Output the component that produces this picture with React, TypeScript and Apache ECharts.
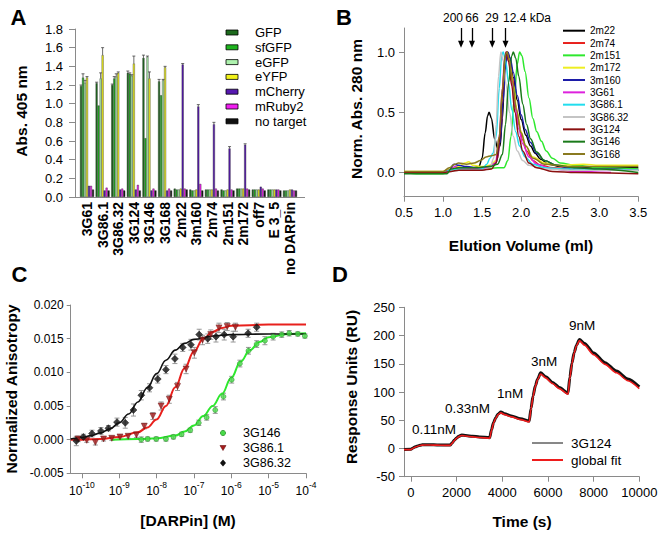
import React, { useEffect, useRef } from 'react';
import * as echarts from 'echarts';

const FONT = "'Liberation Sans', Arial, Helvetica, sans-serif";

// ---------------- Panel A ----------------
const clonesA = ['3G61', '3G86.1', '3G86.32', '3G124', '3G146', '3G168', '2m22', '3m160', '2m74', '2m151', '2m172', 'off7', 'E 3_5', 'no DARPin'];
const targetsA = ['GFP', 'sfGFP', 'eGFP', 'eYFP', 'mCherry', 'mRuby2', 'no target'];
const colorsA = ['#1d6a1d', '#1fb41f', '#aef2ae', '#f2f21a', '#5618b0', '#f01ff0', '#111111'];
const absGFP = [1.19, 1.22, 1.20, 1.33, 1.49, 1.24, 0.09, 0.08, 0.08, 0.08, 0.09, 0.08, 0.08, 0.07];
const absSfGFP = [1.28, 0.98, 1.27, 1.32, 0.63, 1.09, 0.08, 0.07, 0.08, 0.07, 0.09, 0.08, 0.08, 0.07];
const absEGFP = [1.22, 1.27, 1.29, 1.30, 1.50, 1.25, 0.08, 0.07, 0.08, 0.07, 0.09, 0.08, 0.08, 0.07];
const absEYFP = [1.28, 1.52, 1.33, 1.43, 1.27, 1.39, 0.09, 0.08, 0.08, 0.08, 0.09, 0.08, 0.08, 0.08];
const absMCherry = [0.12, 0.07, 0.08, 0.08, 0.07, 0.07, 1.42, 0.97, 0.78, 0.52, 0.56, 0.11, 0.08, 0.08];
const absMRuby2 = [0.12, 0.10, 0.09, 0.13, 0.09, 0.09, 0.09, 0.14, 0.09, 0.08, 0.09, 0.09, 0.08, 0.07];
const absNoTarget = [0.08, 0.07, 0.07, 0.07, 0.07, 0.07, 0.08, 0.07, 0.07, 0.07, 0.08, 0.07, 0.07, 0.07];
const errGFP = [0.01, 0.01, 0.01, 0.02, 0.03, 0.02, 0, 0, 0, 0, 0, 0, 0, 0];
const errSfGFP = [0.04, 0, 0.02, 0.01, 0, 0, 0, 0, 0, 0, 0, 0, 0, 0];
const errEGFP = [0.03, 0.06, 0.03, 0.01, 0.01, 0.01, 0, 0, 0, 0, 0, 0, 0, 0];
const errEYFP = [0.01, 0.08, 0.01, 0.08, 0.07, 0.01, 0, 0, 0, 0, 0, 0, 0, 0];
const errMCherry = [0, 0, 0, 0, 0, 0, 0.01, 0.02, 0.02, 0.02, 0.01, 0, 0, 0];
const valuesA = [absGFP, absSfGFP, absEGFP, absEYFP, absMCherry, absMRuby2, absNoTarget];
const errorsA = [errGFP, errSfGFP, errEGFP, errEYFP, errMCherry, null, null];

// ---------------- Panel B ----------------
const namesB = ['2m22', '2m74', '2m151', '2m172', '3m160', '3G61', '3G86.1', '3G86.32', '3G124', '3G146', '3G168'];
const colorsB = ['#000000', '#e8201c', '#2ee82e', '#eeee22', '#1c1ca8', '#dd22dd', '#22ddee', '#c4c4c4', '#8b1010', '#1a7a1a', '#8a7a20'];
const markerKDaB = ['200', '66', '29', '12.4 kDa'];
const markerVolB = [1.23, 1.37, 1.63, 1.80];
const trace2m22 = [[0.5, 0.0], [0.8, 0.0], [1.02, 0.0], [1.08, 0.02], [1.14, 0.04], [1.25, 0.04], [1.38, 0.04], [1.46, 0.05], [1.5, 0.12], [1.54, 0.33], [1.57, 0.47], [1.59, 0.5], [1.62, 0.45], [1.66, 0.28], [1.7, 0.2], [1.73, 0.22], [1.76, 0.45], [1.79, 0.85], [1.82, 1.0], [1.85, 0.96], [1.9, 0.79], [1.95, 0.6], [2.0, 0.44], [2.06, 0.31], [2.12, 0.22], [2.18, 0.16], [2.25, 0.11], [2.35, 0.07], [2.5, 0.05], [2.8, 0.04], [3.2, 0.04], [3.5, 0.04]];
const trace2m74 = [[0.5, 0.0], [1.0, 0.0], [1.1, 0.02], [1.2, 0.03], [1.4, 0.03], [1.55, 0.04], [1.65, 0.06], [1.7, 0.12], [1.74, 0.35], [1.77, 0.65], [1.8, 0.95], [1.82, 1.0], [1.85, 0.93], [1.89, 0.78], [1.93, 0.56], [1.97, 0.4], [2.02, 0.27], [2.07, 0.18], [2.15, 0.1], [2.25, 0.06], [2.4, 0.04], [2.7, 0.03], [3.0, 0.03], [3.5, 0.02]];
const trace2m151 = [[0.5, 0.0], [0.7, -0.01], [1.0, -0.01], [1.1, 0.02], [1.2, 0.03], [1.5, 0.03], [1.7, 0.04], [1.78, 0.04], [1.83, 0.1], [1.87, 0.3], [1.91, 0.6], [1.95, 0.9], [1.98, 1.0], [2.01, 0.97], [2.05, 0.84], [2.1, 0.62], [2.15, 0.45], [2.2, 0.34], [2.26, 0.26], [2.32, 0.18], [2.4, 0.12], [2.5, 0.08], [2.7, 0.06], [3.0, 0.04], [3.5, 0.03]];
const trace2m172 = [[0.5, 0.01], [1.0, 0.01], [1.1, 0.03], [1.2, 0.05], [1.28, 0.08], [1.33, 0.09], [1.38, 0.06], [1.5, 0.05], [1.6, 0.06], [1.68, 0.1], [1.73, 0.3], [1.77, 0.7], [1.8, 0.97], [1.82, 1.0], [1.85, 0.93], [1.9, 0.72], [1.95, 0.5], [2.0, 0.34], [2.06, 0.22], [2.15, 0.13], [2.3, 0.08], [2.5, 0.06], [2.8, 0.07], [3.0, 0.06], [3.5, 0.06]];
const trace3m160 = [[0.5, 0.0], [1.0, 0.0], [1.08, 0.02], [1.14, 0.07], [1.2, 0.06], [1.3, 0.05], [1.45, 0.04], [1.6, 0.05], [1.68, 0.08], [1.73, 0.25], [1.77, 0.6], [1.8, 0.9], [1.83, 1.0], [1.86, 0.95], [1.9, 0.83], [1.95, 0.64], [2.0, 0.48], [2.05, 0.36], [2.12, 0.25], [2.2, 0.16], [2.3, 0.1], [2.45, 0.06], [2.6, 0.04], [2.65, 0.02], [2.7, 0.04], [3.0, 0.03], [3.5, 0.02]];
const trace3G61 = [[0.5, 0.0], [1.0, 0.0], [1.1, 0.02], [1.15, 0.05], [1.2, 0.04], [1.3, 0.03], [1.5, 0.03], [1.6, 0.05], [1.67, 0.08], [1.72, 0.3], [1.76, 0.7], [1.79, 0.97], [1.81, 1.0], [1.84, 0.93], [1.88, 0.75], [1.92, 0.54], [1.97, 0.36], [2.02, 0.24], [2.1, 0.13], [2.2, 0.07], [2.4, 0.03], [2.7, 0.01], [3.15, 0.0]];
const trace3G86_1 = [[0.5, 0.0], [1.0, 0.0], [1.1, 0.02], [1.2, 0.03], [1.4, 0.02], [1.5, 0.03], [1.56, 0.07], [1.6, 0.12], [1.64, 0.16], [1.68, 0.3], [1.72, 0.7], [1.75, 0.97], [1.77, 1.0], [1.8, 0.93], [1.84, 0.74], [1.88, 0.52], [1.93, 0.34], [1.98, 0.22], [2.05, 0.13], [2.15, 0.07], [2.3, 0.04], [2.6, 0.03], [3.5, 0.02]];
const trace3G86_32 = [[0.5, 0.0], [1.0, 0.0], [1.1, 0.01], [1.2, 0.02], [1.5, 0.02], [1.6, 0.04], [1.65, 0.12], [1.68, 0.4], [1.71, 0.8], [1.74, 1.0], [1.77, 0.93], [1.81, 0.72], [1.85, 0.5], [1.9, 0.3], [1.95, 0.18], [2.02, 0.1], [2.1, 0.06], [2.3, 0.03], [2.6, 0.02], [3.5, 0.02]];
const trace3G124 = [[0.5, 0.0], [1.0, 0.0], [1.1, 0.01], [1.2, 0.02], [1.5, 0.02], [1.62, 0.03], [1.68, 0.08], [1.72, 0.25], [1.76, 0.65], [1.79, 0.95], [1.81, 1.0], [1.84, 0.92], [1.88, 0.72], [1.92, 0.5], [1.97, 0.3], [2.02, 0.18], [2.1, 0.08], [2.2, 0.04], [2.4, 0.01], [2.7, 0.0], [3.5, -0.01]];
const trace3G146 = [[0.5, -0.01], [0.9, -0.01], [1.05, -0.01], [1.1, 0.03], [1.2, 0.04], [1.4, 0.04], [1.6, 0.05], [1.7, 0.07], [1.76, 0.15], [1.8, 0.4], [1.84, 0.75], [1.88, 0.97], [1.9, 1.0], [1.93, 0.95], [1.97, 0.8], [2.02, 0.57], [2.07, 0.4], [2.12, 0.28], [2.2, 0.17], [2.3, 0.1], [2.45, 0.06], [2.7, 0.04], [3.0, 0.03], [3.5, 0.0]];
const trace3G168 = [[0.5, 0.01], [1.0, 0.01], [1.08, 0.04], [1.15, 0.07], [1.2, 0.08], [1.3, 0.07], [1.4, 0.08], [1.48, 0.1], [1.55, 0.13], [1.62, 0.14], [1.68, 0.15], [1.72, 0.3], [1.76, 0.7], [1.8, 0.98], [1.82, 1.0], [1.85, 0.93], [1.89, 0.75], [1.94, 0.52], [2.0, 0.33], [2.06, 0.22], [2.15, 0.12], [2.3, 0.07], [2.6, 0.05], [3.0, 0.05], [3.5, 0.05]];
const tracesB = [trace2m22, trace2m74, trace2m151, trace2m172, trace3m160, trace3G61, trace3G86_1, trace3G86_32, trace3G124, trace3G146, trace3G168];
const yTicksB = [0, 0.5, 1.0];

// ---------------- Panel C ----------------
const logTicksC = [-10, -9, -8, -7, -6, -5, -4];
const namesC = ['3G146', '3G86.1', '3G86.32'];
const logGreenC = [-8.41, -8.24, -8.01, -7.75, -7.55, -7.33, -7.10, -6.87, -6.66, -6.43, -6.21, -5.99, -5.77, -5.54, -5.32, -5.10, -4.88, -4.65, -4.45, -4.22, -4.03];
const valGreenC = [0.0000, 0.0001, 0.0001, 0.0001, 0.0004, 0.0008, 0.0014, 0.0025, 0.0033, 0.0044, 0.0064, 0.0089, 0.0113, 0.0132, 0.0142, 0.0147, 0.0153, 0.0156, 0.0158, 0.0157, 0.0154];
const errGreenC = [0.0004, 0.0003, 0.0003, 0.0003, 0.0003, 0.0003, 0.0003, 0.0004, 0.0004, 0.0005, 0.0005, 0.0005, 0.0005, 0.0005, 0.0005, 0.0006, 0.0005, 0.0004, 0.0004, 0.0003, 0.0003];
const logRedC = [-10.1, -9.87, -9.64, -9.42, -9.2, -8.98, -8.76, -8.54, -8.33, -8.10, -7.88, -7.66, -7.44, -7.21, -6.99, -6.77, -6.55, -6.33, -6.11, -5.89];
const valRedC = [0.0001, -0.0001, -0.0004, 0.0001, 0.0002, 0.0004, 0.0005, 0.0007, 0.0020, 0.0035, 0.0050, 0.0060, 0.0079, 0.0105, 0.0129, 0.0148, 0.0156, 0.0166, 0.0168, 0.0167];
const errRedC = [0.0004, 0.0003, 0.0004, 0.0003, 0.0003, 0.0003, 0.0003, 0.0004, 0.0004, 0.0005, 0.0006, 0.0006, 0.0006, 0.0007, 0.0008, 0.0007, 0.0007, 0.0007, 0.0006, 0.0006];
const logBlackC = [-10.15, -9.96, -9.73, -9.49, -9.29, -9.06, -8.84, -8.62, -8.41, -8.19, -7.97, -7.75, -7.51, -7.30, -7.08, -6.86, -6.63, -6.41, -6.19, -5.95, -5.55, -5.32];
const valBlackC = [-0.0002, 0.0004, 0.0009, 0.0013, 0.0017, 0.0026, 0.0025, 0.0044, 0.0066, 0.0077, 0.0090, 0.0104, 0.0120, 0.0137, 0.0141, 0.0156, 0.0150, 0.0153, 0.0156, 0.0153, 0.0158, 0.0167];
const errBlackC = [0.0007, 0.0004, 0.0005, 0.0005, 0.0004, 0.0006, 0.0008, 0.0009, 0.0007, 0.0006, 0.0006, 0.0006, 0.0007, 0.0006, 0.0008, 0.0008, 0.0007, 0.0008, 0.0008, 0.0008, 0.0006, 0.0006];
const fitGreenC = [[-9.2, 0.0], [-8.5, 0.0001], [-8.0, 0.0002], [-7.5, 0.0006], [-7.25, 0.0012], [-7.0, 0.0021], [-6.75, 0.0035], [-6.5, 0.005], [-6.25, 0.0068], [-6.0, 0.0092], [-5.75, 0.0116], [-5.5, 0.0133], [-5.25, 0.0145], [-5.0, 0.0152], [-4.5, 0.0157], [-4.0, 0.0158]];
const fitRedC = [[-10.3, 0.0], [-10.0, 0.0], [-9.5, 0.0001], [-9.0, 0.0004], [-8.5, 0.0011], [-8.25, 0.0018], [-8.0, 0.003], [-7.75, 0.005], [-7.5, 0.0078], [-7.25, 0.0106], [-7.0, 0.0131], [-6.75, 0.015], [-6.5, 0.016], [-6.25, 0.0166], [-6.0, 0.0169], [-5.5, 0.017], [-5.0, 0.0171], [-4.0, 0.0171]];
const fitBlackC = [[-10.3, 0.0001], [-10.0, 0.0003], [-9.75, 0.0006], [-9.5, 0.001], [-9.25, 0.0016], [-9.0, 0.0025], [-8.75, 0.0038], [-8.5, 0.0056], [-8.25, 0.0077], [-8.0, 0.0098], [-7.75, 0.0118], [-7.5, 0.0133], [-7.25, 0.0143], [-7.0, 0.0149], [-6.5, 0.0154], [-6.0, 0.0156], [-5.0, 0.0157], [-4.0, 0.0157]];

// ---------------- Panel D ----------------
const ticksD = [0, 2000, 4000, 6000, 8000, 10000];
const timeD = [-300, 0, 100, 200, 300, 400, 500, 700, 1000, 1300, 1720,
  1800, 1900, 2000, 2100, 2230, 2400, 2700, 3000, 3450,
  3530, 3620, 3720, 3820, 3940, 4100, 4400, 4800, 5180,
  5260, 5350, 5450, 5550, 5680, 5900, 6200, 6500, 6880,
  6960, 7050, 7150, 7250, 7380, 7600, 8000, 8500, 9000, 9500, 10000];
const dataD = [-2, -1.5, 1, 3, 4.5, 5.5, 6.5, 6.8, 6.5, 6.2, 6,
  9.5, 14.5, 18.5, 21.5, 24, 23, 21.5, 20.5, 19,
  33, 46, 55, 61, 64.5, 61.5, 57.5, 52.5, 48.5,
  71, 93, 111, 123, 134, 127, 117, 108, 98,
  126, 151, 170, 183, 193, 186, 169, 152, 137, 123, 109];
const fitD = [-2, -2, 0.5, 2.5, 4, 5.2, 6, 6.2, 6, 5.7, 5.4,
  9, 14, 18, 21, 23, 22, 20.5, 19.5, 18,
  32, 45, 54, 60, 63, 60, 56, 51, 47,
  70, 92, 110, 122, 132, 125, 115, 106, 96,
  125, 150, 169, 182, 191, 183, 166, 149, 134, 120, 106];
const concLabelsD = ['0.11nM', '0.33nM', '1nM', '3nM', '9nM'];

// ---------------- helpers ----------------
const AXIS_GRAY = '#8a8a8a';
function mkAxis(extra: any) {
  const base: any = {
    axisLine: { show: true, onZero: false, lineStyle: { color: AXIS_GRAY, width: 1 } },
    axisTick: { show: true, inside: false, length: 5, lineStyle: { color: AXIS_GRAY, width: 1 } },
    splitLine: { show: false },
    axisLabel: { color: '#000', fontFamily: FONT, fontSize: 13 },
  };
  const out: any = { ...base, ...extra };
  out.axisLine = { ...base.axisLine, ...(extra.axisLine || {}) };
  out.axisTick = { ...base.axisTick, ...(extra.axisTick || {}) };
  out.axisLabel = { ...base.axisLabel, ...(extra.axisLabel || {}) };
  return out;
}
function txt(x: number, y: number, text: string, o: any = {}) {
  return {
    type: 'text', x, y, rotation: o.rotation || 0, silent: true,
    style: {
      text, fontFamily: FONT, fontSize: o.size || 13, fontWeight: o.bold ? 'bold' : 'normal',
      fill: o.color || '#000', align: o.align || 'center', verticalAlign: 'middle',
    },
  };
}

function buildOption() {
  const series: any[] = [];
  // A bars
  targetsA.forEach((t, k) => {
    series.push({
      type: 'bar', name: t, xAxisIndex: 0, yAxisIndex: 0, data: valuesA[k],
      barWidth: 2, barGap: '0%',
      itemStyle: { color: colorsA[k], borderColor: '#2a2a2a', borderWidth: 0.4 },
    });
  });
  const errDataA: any[] = [];
  errorsA.forEach((errs, k) => {
    if (!errs) return;
    errs.forEach((e, i) => { if (e > 0) errDataA.push([i, valuesA[k][i], e, k]); });
  });
  series.push({
    type: 'custom', xAxisIndex: 0, yAxisIndex: 0, z: 5, data: errDataA,
    encode: { x: 0, y: 1 },
    renderItem: (p: any, api: any) => {
      const i = api.value(0), v = api.value(1), e = api.value(2), k = api.value(3);
      const p0 = api.coord([i, v]);
      const p1 = api.coord([i, v + e]);
      const x = p0[0] - 6 + 2 * k;
      const st = { stroke: '#444', lineWidth: 0.8 };
      return {
        type: 'group', children: [
          { type: 'line', shape: { x1: x, y1: p0[1], x2: x, y2: p1[1] }, style: st },
          { type: 'line', shape: { x1: x - 1.5, y1: p1[1], x2: x + 1.5, y2: p1[1] }, style: st },
        ],
      };
    },
  });
  // B traces
  tracesB.forEach((tr, k) => {
    const s: any = {
      type: 'line', name: namesB[k], xAxisIndex: 1, yAxisIndex: 1, data: tr,
      showSymbol: false, smooth: 0.35, smoothMonotone: 'x',
      lineStyle: { color: colorsB[k], width: 1.5 }, itemStyle: { color: colorsB[k] },
    };
    if (k === 0) {
      s.markLine = {
        silent: true, symbol: ['none', 'triangle'], symbolSize: [6, 7],
        lineStyle: { color: '#000', width: 1.3, type: 'solid' },
        label: { show: false },
        data: markerVolB.map((v) => [{ coord: [v, 1.2] }, { coord: [v, 1.065] }]),
      };
    }
    series.push(s);
  });
  // C
  const cSets = [
    { log: logGreenC, val: valGreenC, err: errGreenC, fit: fitGreenC, line: '#2ee82e', fill: '#49d949', stroke: '#1f8a1f', symbol: 'circle', size: 5, rot: 0 },
    { log: logRedC, val: valRedC, err: errRedC, fit: fitRedC, line: '#e8201c', fill: '#a51c1c', stroke: '#6a0f0f', symbol: 'triangle', size: 6, rot: 180 },
    { log: logBlackC, val: valBlackC, err: errBlackC, fit: fitBlackC, line: '#111111', fill: '#111111', stroke: '#111111', symbol: 'diamond', size: 7, rot: 0 },
  ];
  cSets.forEach((c) => {
    series.push({
      type: 'custom', xAxisIndex: 2, yAxisIndex: 2, z: 2,
      data: c.log.map((x, i) => [x, c.val[i], c.err[i]]), encode: { x: 0, y: 1 },
      renderItem: (p: any, api: any) => {
        const x = api.value(0), v = api.value(1), e = api.value(2);
        const a = api.coord([x, v - e]);
        const b = api.coord([x, v + e]);
        const st = { stroke: '#8c8c8c', lineWidth: 0.9 };
        return {
          type: 'group', children: [
            { type: 'line', shape: { x1: a[0], y1: a[1], x2: b[0], y2: b[1] }, style: st },
            { type: 'line', shape: { x1: a[0] - 2.5, y1: a[1], x2: a[0] + 2.5, y2: a[1] }, style: st },
            { type: 'line', shape: { x1: b[0] - 2.5, y1: b[1], x2: b[0] + 2.5, y2: b[1] }, style: st },
          ],
        };
      },
    });
  });
  cSets.forEach((c, k) => {
    series.push({
      type: 'line', name: 'fit ' + namesC[k], xAxisIndex: 2, yAxisIndex: 2, z: 3,
      data: c.fit, showSymbol: false, smooth: 0.4, smoothMonotone: 'x',
      lineStyle: { color: c.line, width: k === 2 ? 1.6 : 2 },
    });
  });
  cSets.forEach((c, k) => {
    series.push({
      type: 'scatter', name: namesC[k], xAxisIndex: 2, yAxisIndex: 2, z: 4,
      data: c.log.map((x, i) => [x, c.val[i]]),
      symbol: c.symbol, symbolSize: c.size, symbolRotate: c.rot,
      itemStyle: { color: c.fill, borderColor: c.stroke, borderWidth: 0.6 },
    });
  });
  // D
  series.push({
    type: 'line', name: '3G124 data', xAxisIndex: 3, yAxisIndex: 3,
    data: timeD.map((t, i) => [t, dataD[i]]), showSymbol: false, smooth: 0.25, smoothMonotone: 'x',
    lineStyle: { color: '#111', width: 3 },
  });
  series.push({
    type: 'line', name: 'global fit', xAxisIndex: 3, yAxisIndex: 3,
    data: timeD.map((t, i) => [t, fitD[i]]), showSymbol: false, smooth: 0.25, smoothMonotone: 'x',
    lineStyle: { color: '#ee1c1c', width: 1.6 },
  });

  const graphic: any[] = [];
  // panel letters
  graphic.push(txt(18.5, 17.5, 'A', { size: 22, bold: true }));
  graphic.push(txt(344, 17, 'B', { size: 22, bold: true }));
  graphic.push(txt(19.5, 274.5, 'C', { size: 22, bold: true }));
  graphic.push(txt(340, 274.5, 'D', { size: 22, bold: true }));
  // axis titles
  graphic.push(txt(21, 111, 'Abs. 405 nm', { size: 15.5, bold: true, rotation: Math.PI / 2 }));
  graphic.push(txt(356, 109, 'Norm. Abs. 280 nm', { size: 15.5, bold: true, rotation: Math.PI / 2 }));
  graphic.push(txt(521, 245, 'Elution Volume (ml)', { size: 15.5, bold: true }));
  graphic.push(txt(11.5, 389, 'Normalized Anisotropy', { size: 15.5, bold: true, rotation: Math.PI / 2 }));
  graphic.push(txt(188, 520, '[DARPin] (M)', { size: 15.5, bold: true }));
  graphic.push(txt(351.5, 387, 'Response Units (RU)', { size: 15.5, bold: true, rotation: Math.PI / 2 }));
  graphic.push(txt(522, 521, 'Time (s)', { size: 15.5, bold: true }));
  // A x axis line
  graphic.push({ type: 'line', silent: true, shape: { x1: 75, y1: 197.5, x2: 305, y2: 197.5 }, style: { stroke: AXIS_GRAY, lineWidth: 1 } });
  // A legend
  targetsA.forEach((t, k) => {
    const cy = 32.5 + 14.8 * k;
    graphic.push({ type: 'rect', silent: true, shape: { x: 226, y: cy - 2.5, width: 12, height: 5 }, style: { fill: colorsA[k], stroke: '#000', lineWidth: 0.8 } });
    graphic.push(txt(255, cy, t, { size: 13, align: 'left' }));
  });
  // B marker labels
  const kdaX = [453, 472, 492, 503];
  markerKDaB.forEach((m, k) => {
    graphic.push(txt(kdaX[k], 18, m, { size: 12, align: k === 3 ? 'left' : 'center' }));
  });
  // B legend
  namesB.forEach((n, k) => {
    const cy = 30.7 + 12.33 * k;
    graphic.push({ type: 'line', silent: true, shape: { x1: 563, y1: cy, x2: 585, y2: cy }, style: { stroke: colorsB[k], lineWidth: 2 } });
    graphic.push(txt(590, cy, n, { size: 10, align: 'left' }));
  });
  // C legend
  graphic.push({ type: 'circle', silent: true, shape: { cx: 223, cy: 433, r: 2.6 }, style: { fill: '#49d949', stroke: '#1f8a1f', lineWidth: 0.7 } });
  graphic.push({ type: 'polygon', silent: true, shape: { points: [[220, 445.5], [226, 445.5], [223, 450.5]] }, style: { fill: '#a51c1c', stroke: '#6a0f0f', lineWidth: 0.6 } });
  graphic.push({ type: 'polygon', silent: true, shape: { points: [[223, 459.5], [226, 463], [223, 466.5], [220, 463]] }, style: { fill: '#111' } });
  namesC.forEach((n, k) => graphic.push(txt(243, 433 + 15 * k, n, { size: 12.5, align: 'left' })));
  // D legend
  graphic.push({ type: 'line', silent: true, shape: { x1: 532, y1: 443, x2: 563, y2: 443 }, style: { stroke: '#111', lineWidth: 1 } });
  graphic.push(txt(571, 443, '3G124', { size: 13.5, align: 'left' }));
  graphic.push({ type: 'line', silent: true, shape: { x1: 532, y1: 460, x2: 563, y2: 460 }, style: { stroke: '#ee1c1c', lineWidth: 2 } });
  graphic.push(txt(571, 460, 'global fit', { size: 13.5, align: 'left' }));
  // D concentration annotations
  const annPos = [[434, 429], [467.5, 408], [510, 393], [544, 361], [582, 325.5]];
  concLabelsD.forEach((c, k) => graphic.push(txt(annPos[k][0], annPos[k][1], c, { size: 13.5 })));

  return {
    animation: false,
    backgroundColor: '#ffffff',
    textStyle: { fontFamily: FONT },
    grid: [
      { left: 79.2, top: 29, width: 218.6, height: 168, outerBoundsMode: 'none' },
      { left: 404, top: 28, width: 234.3, height: 168.7, outerBoundsMode: 'none' },
      { left: 70.7, top: 305, width: 235.3, height: 168.3, outerBoundsMode: 'none' },
      { left: 404, top: 307.3, width: 235.3, height: 169.4, outerBoundsMode: 'none' },
    ],
    xAxis: [
      mkAxis({
        type: 'category', gridIndex: 0, data: clonesA,
        axisLine: { show: false }, axisTick: { show: false },
        axisLabel: { rotate: 90, interval: 0, fontWeight: 'bold', fontSize: 14, margin: 5 },
      }),
      mkAxis({
        type: 'value', gridIndex: 1, min: 0.5, max: 3.5, interval: 0.5,
        axisLabel: { margin: 9, formatter: (v: number) => v.toFixed(1) },
      }),
      mkAxis({
        type: 'value', gridIndex: 2, min: -10.3, max: -4,
        axisTick: { customValues: logTicksC },
        axisLabel: {
          customValues: logTicksC, margin: 7,
          formatter: (v: number) => `{b|10}{s|${Math.round(v)}}`,
          rich: {
            b: { fontSize: 12, fontFamily: FONT, color: '#000', verticalAlign: 'bottom', lineHeight: 17 },
            s: { fontSize: 8.5, fontFamily: FONT, color: '#000', verticalAlign: 'top', lineHeight: 10 },
          },
        },
      }),
      mkAxis({
        type: 'value', gridIndex: 3, min: -300, max: 10000,
        axisTick: { customValues: ticksD },
        axisLabel: { customValues: ticksD, margin: 9, formatter: (v: number) => String(Math.round(v)) },
      }),
    ],
    yAxis: [
      mkAxis({
        type: 'value', gridIndex: 0, min: 0, max: 1.8, interval: 0.2, offset: 4.2,
        axisTick: { length: 6 },
        axisLabel: { margin: 12, formatter: (v: number) => v.toFixed(1) },
      }),
      mkAxis({
        type: 'value', gridIndex: 1, min: -0.2, max: 1.2,
        axisTick: { customValues: yTicksB },
        axisLabel: { customValues: yTicksB, margin: 9, formatter: (v: number) => v.toFixed(1) },
      }),
      mkAxis({
        type: 'value', gridIndex: 2, min: -0.005, max: 0.02, interval: 0.005,
        axisTick: { length: 4 },
        axisLabel: { fontSize: 12, margin: 7, formatter: (v: number) => (Math.abs(v) < 1e-9 ? 0 : v).toFixed(3) },
      }),
      mkAxis({
        type: 'value', gridIndex: 3, min: -50, max: 250, interval: 50,
        axisLabel: { margin: 9, formatter: (v: number) => String(Math.round(v)) },
      }),
    ],
    series,
    graphic,
  };
}

export default function App() {
  const ref = useRef<HTMLDivElement>(null);
  useEffect(() => {
    const chart = echarts.init(ref.current as HTMLDivElement, null, { renderer: 'svg' });
    chart.setOption(buildOption() as any);
    return () => chart.dispose();
  }, []);
  return (
    <div
      ref={ref}
      style={{ position: 'absolute', left: 0, top: 0, width: 664, height: 537, background: '#fff' }}
    />
  );
}
